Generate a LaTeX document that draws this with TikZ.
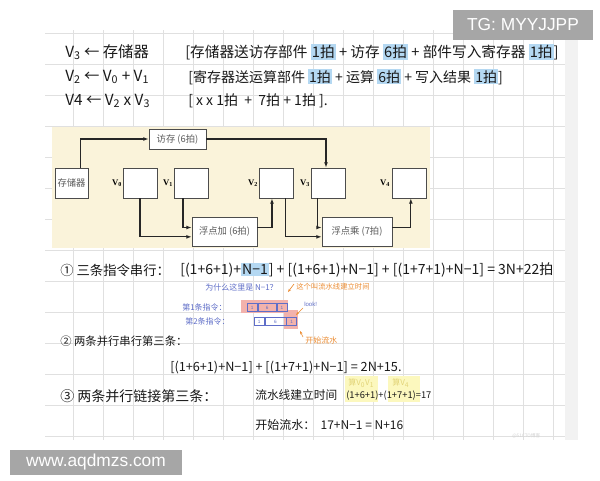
\documentclass[tikz,border=0pt]{standalone}
\usepackage{fontspec}
\setmainfont{Liberation Sans}
\newfontfamily\cjk{Noto Sans CJK SC}
\newfontfamily\wmfont{Liberation Sans}
\newfontfamily\serifb{Liberation Serif}
\usetikzlibrary{arrows.meta}
\definecolor{gridc}{RGB}{224,224,224}
\definecolor{panelc}{RGB}{250,243,218}
\definecolor{hlblue}{RGB}{180,216,242}
\definecolor{annblue}{RGB}{95,110,200}
\definecolor{annorange}{RGB}{236,140,50}
\definecolor{pinkhl}{RGB}{242,178,172}
\definecolor{yelhl}{RGB}{252,248,190}
\definecolor{yeltext}{RGB}{226,212,120}
\definecolor{wmgray}{RGB}{166,166,166}
\definecolor{ink}{RGB}{25,25,25}
\newcommand\hlb[1]{{\setlength\fboxsep{0.8pt}\colorbox{hlblue}{#1}}}
\newcommand\fsz[1]{\fontsize{#1}{#1}\selectfont}
\begin{document}
\begin{tikzpicture}[x=0.75pt,y=-0.75pt,
  hand/.style={font=\cjk\fsz{10}, text=ink, anchor=west, inner sep=0pt},
  small/.style={font=\cjk\fsz{6}, anchor=west, inner sep=0pt},
  dbox/.style={draw=black!70, fill=white, line width=0.6pt, inner sep=0pt,
     font=\cjk\fsz{7}, text=black!65},
  vlab/.style={font=\serifb\bfseries\fsz{6.5}, inner sep=0pt},
  flow/.style={-{Latex[length=4pt,width=3pt]}, line width=0.8pt, draw=black!85},
  cell/.style={draw=annblue, line width=0.4pt, inner sep=0pt, minimum height=6pt,
     font=\fsz{3.5}, text=annblue}]
\useasboundingbox (0,0) rectangle (600,480);
\fill[white] (0,0) rectangle (600,480);
% notebook grid
\foreach \x in {73,103,...,553} \draw[gridc, line width=0.6pt] (\x,30) -- (\x,440);
\foreach \y in {33,64,...,436} \draw[gridc, line width=0.6pt] (45,\y) -- (565,\y);
\fill[gray!10] (565,30) rectangle (578,440);
% watermarks
\fill[wmgray] (453,10) rectangle (593,40);
\node[text=white, font=\wmfont\fsz{13}] (tg) at (523,25) {TG: MYYJJPP};
\fill[wmgray] (10,450) rectangle (182,475);
\node[text=white, font=\wmfont\fsz{13}] (www) at (96,462) {www.aqdmzs.com};
% top three lines
\node[hand, font=\cjk\fsz{11.5}] (l1a) at (65,52) {V\textsubscript{3} ← 存储器};
\node[hand, font=\cjk\fsz{11}] (l1b) at (185,52) {[存储器送访存部件 \hlb{1拍} + 访存 \hlb{6拍} + 部件写入寄存器 \hlb{1拍}]};
\node[hand, font=\cjk\fsz{11.5}] (l2a) at (65,77) {V\textsubscript{2} ← V\textsubscript{0} + V\textsubscript{1}};
\node[hand, font=\cjk\fsz{10.5}] (l2b) at (188,77) {[寄存器送运算部件 \hlb{1拍} + 运算 \hlb{6拍} + 写入结果 \hlb{1拍}]};
\node[hand, font=\cjk\fsz{11.5}] (l3a) at (65,101) {V4 ← V\textsubscript{2} x V\textsubscript{3}};
\node[hand, font=\cjk\fsz{10.5}] (l3b) at (188,101) {[ x x 1拍 \ + \ 7拍 + 1拍 ].};
% diagram panel
\fill[panelc] (52,127) rectangle (430,248);
\node[dbox, minimum width=42.75pt, minimum height=15pt] (fc) at (177.5,139) {访存 (6拍)};
\node[dbox, minimum width=24.75pt, minimum height=22.5pt] (mem) at (71.5,183) {存储器};
\node[dbox, minimum width=25.5pt, minimum height=22.5pt] (v0) at (140,183) {};
\node[dbox, minimum width=25.5pt, minimum height=22.5pt] (v1) at (191,183) {};
\node[dbox, minimum width=25.5pt, minimum height=22.5pt] (v2) at (276.5,183) {};
\node[dbox, minimum width=25.5pt, minimum height=22.5pt] (v3) at (328,183) {};
\node[dbox, minimum width=25.5pt, minimum height=22.5pt] (v4) at (409.5,183) {};
\node[dbox, minimum width=48.75pt, minimum height=21.75pt] (add) at (224.5,231.5) {浮点加 (6拍)};
\node[dbox, minimum width=52.5pt, minimum height=21.75pt] (mul) at (357,231.5) {浮点乘 (7拍)};
\node[vlab] (lv0) at (117,183) {V\textsubscript{0}};
\node[vlab] (lv1) at (168,183) {V\textsubscript{1}};
\node[vlab] (lv2) at (253,183) {V\textsubscript{2}};
\node[vlab] (lv3) at (305,183) {V\textsubscript{3}};
\node[vlab] (lv4) at (385,183) {V\textsubscript{4}};
\draw[flow] ([xshift=7pt]mem.north) |- (fc.west);
\draw[flow] (fc.east) -| ([xshift=-1.5pt]v3.north);
\draw[flow] (v0.south) |- ([yshift=-4pt]add.west);
\draw[flow] ([xshift=-6pt]v1.south) |- ([yshift=3pt]add.west);
\draw[flow] ([yshift=3pt]add.east) -| ([xshift=-3.4pt]v2.south);
\draw[flow] ([xshift=7pt]v2.south) |- ([yshift=-4pt]mul.west);
\draw[flow] ([xshift=-8pt]v3.south) |- ([yshift=3pt]mul.west);
\draw[flow] ([yshift=3pt]mul.east) -| ([xshift=1pt]v4.south);
% case 1
\node[hand, font=\cjk\fsz{10}] (c1a) at (60,270) {① 三条指令串行：};
\node[hand, font=\cjk\fsz{10.5}] (c1b) at (180,270) {[(1+6+1)+\hlb{N−1}] + [(1+6+1)+N−1] + [(1+7+1)+N−1] = 3N+22拍};
% annotations
\node[small, text=annblue] (why) at (205,287) {为什么这里是 N−1？};
\node[small, text=annorange, font=\cjk\fsz{5.5}] (build) at (296,287) {这个叫流水线建立时间};
\fill[pinkhl] (241,300) rectangle (288,313);
\fill[pinkhl] (284,310) rectangle (298,329);
\node[cell, minimum width=7.5pt, anchor=west] (r1c1) at (247,307.5) {1};
\node[cell, minimum width=14pt, anchor=west] (r1c2) at (r1c1.east) {6};
\node[cell, minimum width=7.5pt, anchor=west] (r1c3) at (r1c2.east) {1};
\node[cell, minimum width=7.5pt, anchor=west] (r2c1) at (254,321.5) {1};
\node[cell, minimum width=16pt, anchor=west] (r2c2) at (r2c1.east) {6};
\node[cell, minimum width=7.5pt, anchor=west] (r2c3) at (r2c2.east) {1};
\node[small, text=annblue] (ins1) at (182,307) {第1条指令：};
\node[small, text=annblue] (ins2) at (185,321) {第2条指令：};
\node[small, text=annblue, font=\fsz{4.5}] (look) at (304,304) {look!};
\node[small, text=annorange] (start) at (305,340) {开始流水};
\coordinate (bA) at (294,284); \coordinate (bB) at (288,292);
\draw[annorange, line width=0.5pt, -{Stealth[length=2.5pt]}] (bA) -- (bB);
\coordinate (lA) at (303,308); \coordinate (lB) at (296,315);
\draw[annorange, line width=0.5pt, -{Stealth[length=2.5pt]}] (lA) -- (lB);
\coordinate (sA) at (303,337); \coordinate (sB) at (300,331);
\draw[annorange, line width=0.5pt, -{Stealth[length=2.5pt]}] (sA) -- (sB);
% case 2
\node[hand, font=\cjk\fsz{8.5}] (c2a) at (60,341) {② 两条并行串行第三条：};
\node[hand, font=\cjk\fsz{9.5}] (c2b) at (170,368) {[(1+6+1)+N−1] + [(1+7+1)+N−1] = 2N+15.};
% case 3
\fill[yelhl] (345,376) rectangle (378,402);
\fill[yelhl] (388,376) rectangle (420,402);
\node[small, text=yeltext] (y1) at (348,383) {算V\textsubscript{0}V\textsubscript{1}};
\node[small, text=yeltext] (y2) at (392,383) {算V\textsubscript{4}};
\node[hand, font=\cjk\fsz{10.5}] (c3a) at (60,396) {③ 两条并行链接第三条：};
\node[hand, font=\cjk\fsz{8.8}] (c3b) at (255,395) {流水线建立时间};
\node[hand, font=\cjk\fsz{7}] (c3c) at (346,396) {(1+6+1)+(1+7+1)=17};
\node[hand, font=\cjk\fsz{9}] (c3d) at (255,425) {开始流水： \ 17+N−1 = N+16};
\node[small, text=gray!35, font=\cjk\fsz{3.5}] (blog) at (512,436) {@51CTO博客};
\end{tikzpicture}
\end{document}
